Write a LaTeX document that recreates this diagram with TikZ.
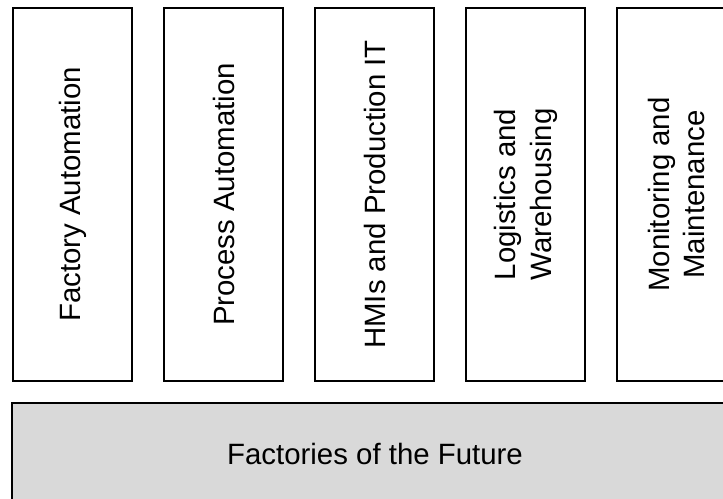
\documentclass[tikz,border=0pt]{standalone}
\usepackage{fontspec}
\setmainfont{Liberation Sans}
\usetikzlibrary{positioning}
\definecolor{ink}{HTML}{000000}
\definecolor{panel}{HTML}{D9D9D9}
\tikzset{
  pillar/.style={draw=ink,line width=2bp,fill=white,rotate=90,inner sep=0pt,
                 minimum width=373bp,minimum height=119bp,align=center},
  base/.style={draw=ink,line width=2bp,fill=panel,inner sep=0pt,
               minimum width=726bp,minimum height=102bp}
}

\begin{document}
\begin{tikzpicture}[x=1bp,y=1bp,font=\fontsize{29.5}{36}\selectfont]
    \useasboundingbox (0,0) rectangle (723,499);
    \clip (0,0) rectangle (723,499);
    % five upright pillars
    \foreach \i/\t in {0/Factory Automation,1/Process Automation,
                       2/HMIs and Production IT,3/Logistics and\\Warehousing,
                       4/Monitoring and\\Maintenance}{
      \node[pillar] (pillar\i) at (72.5+151*\i,304.5) {\t};}
    % foundation they stand on
    \node[base] (future) at (375,45) {Factories of the Future};
  \end{tikzpicture}
\end{document}
